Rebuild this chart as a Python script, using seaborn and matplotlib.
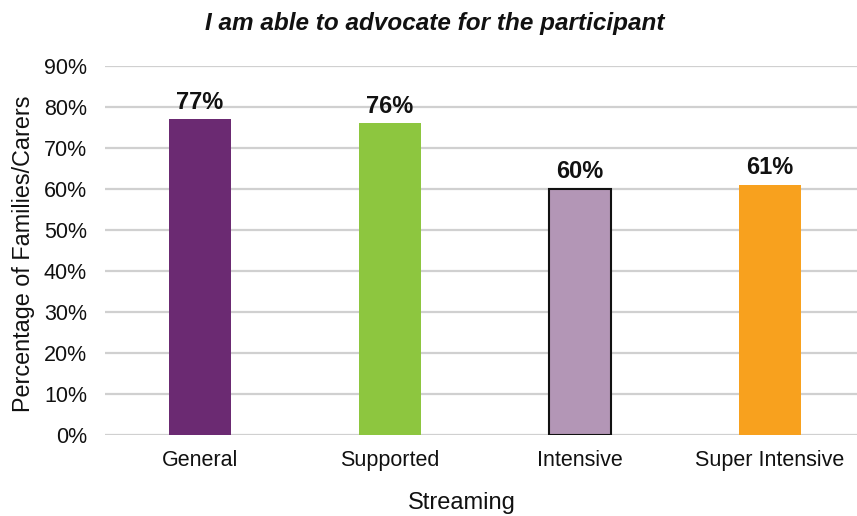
import matplotlib
matplotlib.use("Agg")
import matplotlib.pyplot as plt
import seaborn as sns
import pandas as pd
from matplotlib.ticker import PercentFormatter

categories = ["General", "Supported", "Intensive", "Super Intensive"]
values = [77, 76, 60, 61]
colors = ["#6B2A72", "#8DC63F", "#B396B6", "#F8A11E"]
edges = ["none", "none", "#111111", "none"]

df = pd.DataFrame({"Streaming": categories, "Pct": values})

sns.set_theme(style="white")
plt.rcParams["font.family"] = ["Liberation Sans", "DejaVu Sans"]

fig = plt.figure(figsize=(8.57, 5.16), dpi=100)
ax = fig.add_axes([0.1225, 0.157, 0.8775, 0.715])

sns.barplot(data=df, x="Streaming", y="Pct", hue="Streaming",
            palette=colors, width=0.33, legend=False, ax=ax,
            saturation=1, zorder=3)

for patch, ec in zip(ax.patches, edges):
    if ec != "none":
        patch.set_edgecolor(ec)
        patch.set_linewidth(1.5)
    else:
        patch.set_linewidth(0)

for i, v in enumerate(values):
    ax.text(i, v + 2.6, f"{v}%", ha="center", va="baseline",
            fontsize=17, fontweight="bold", color="#111111")

ax.set_ylim(0, 90)
ax.set_xlim(-0.5, 3.458)
ax.set_yticks(range(0, 91, 10))
ax.yaxis.set_major_formatter(PercentFormatter(decimals=0))
ax.yaxis.grid(True, color="#D0D0D0", linewidth=1.6, zorder=0)
ax.set_axisbelow(True)
for s in ax.spines.values():
    s.set_visible(False)
ax.tick_params(axis="both", length=0, labelsize=15.5, colors="#111111")
ax.tick_params(axis="x", pad=11)
ax.tick_params(axis="y", pad=13)

ax.set_xlabel("Streaming", fontsize=17, color="#111111")
ax.set_ylabel("Percentage of Families/Carers", fontsize=16.8, color="#111111")
ax.xaxis.set_label_coords(0.474, -0.155)
ax.yaxis.set_label_coords(-0.093, 0.49)

fig.text(0.507, 0.942, "I am able to advocate for the participant",
         ha="center", va="baseline", fontsize=17.5, fontweight="bold",
         fontstyle="italic", color="#111111")

fig.savefig("out.png", dpi=100, facecolor="white")
